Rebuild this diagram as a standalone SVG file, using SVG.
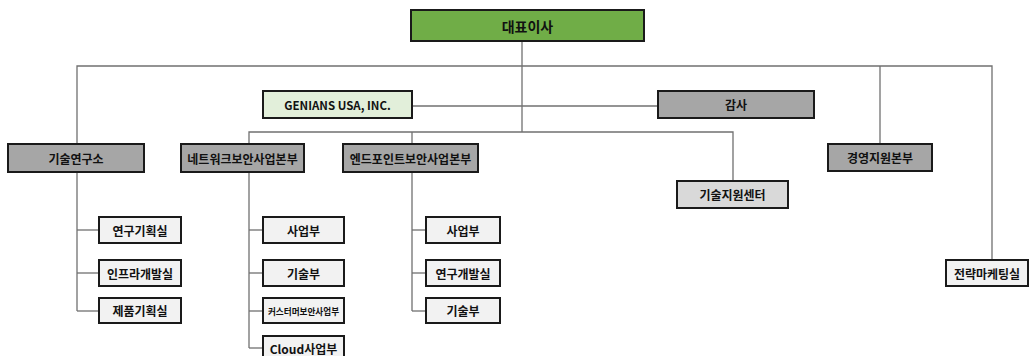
<svg xmlns="http://www.w3.org/2000/svg" width="1029" height="356" viewBox="0 0 1029 356">
<style>
.box{stroke:#1a1a1a;stroke-width:2}
.dk{fill:#a6a6a6}
.lt{fill:#f2f2f2}
.md{fill:#d9d9d9}
.gr{fill:#70ad47}
.lg{fill:#e2efda}
text{font-family:"Noto Sans CJK KR","Noto Sans",sans-serif;font-weight:bold;font-size:12px;fill:#111;text-anchor:middle;dominant-baseline:central}
.conn line,.conn polyline{stroke:#707070;stroke-width:1.3;fill:none}
</style>
<rect width="1029" height="356" fill="#ffffff"/>
<g class="conn" id="connectors">
<line x1="522" y1="41" x2="522" y2="132"/>
<polyline points="77,144 77,66 992,66 992,260"/>
<line x1="880" y1="66" x2="880" y2="144"/>
<line x1="412" y1="106" x2="658" y2="106"/>
<polyline points="249,144 249,132 733,132 733,181"/>
<line x1="412" y1="132" x2="412" y2="144"/>
<line x1="77" y1="172" x2="77" y2="311"/>
<line x1="77" y1="230" x2="99" y2="230"/>
<line x1="77" y1="273" x2="99" y2="273"/>
<line x1="77" y1="311" x2="99" y2="311"/>
<line x1="249" y1="172" x2="249" y2="348"/>
<line x1="249" y1="230" x2="263" y2="230"/>
<line x1="249" y1="273" x2="263" y2="273"/>
<line x1="249" y1="311" x2="263" y2="311"/>
<line x1="249" y1="348" x2="263" y2="348"/>
<line x1="412" y1="172" x2="412" y2="311"/>
<line x1="412" y1="230" x2="426" y2="230"/>
<line x1="412" y1="273" x2="426" y2="273"/>
<line x1="412" y1="311" x2="426" y2="311"/>
</g>
<g id="ceo"><rect class="box gr" x="411" y="10" width="233" height="31"/><text x="527.5" y="25.5" style="font-size:14px">대표이사</text></g>
<g id="genians-usa"><rect class="box lg" x="263" y="91" width="149" height="27"/><text x="337.5" y="104.5" style="font-size:11.5px">GENIANS USA, INC.</text></g>
<g id="audit"><rect class="box dk" x="658" y="91" width="156" height="27"/><text x="736" y="104.5">감사</text></g>
<g id="research-lab"><rect class="box dk" x="8" y="144" width="136" height="28"/><text x="76" y="158">기술연구소</text></g>
<g id="network-div"><rect class="box dk" x="181" y="144" width="123" height="28"/><text x="242.5" y="158">네트워크보안사업본부</text></g>
<g id="endpoint-div"><rect class="box dk" x="343" y="144" width="135" height="28"/><text x="410.5" y="158">엔드포인트보안사업본부</text></g>
<g id="mgmt-div"><rect class="box dk" x="828" y="144" width="104" height="27"/><text x="880" y="157.5">경영지원본부</text></g>
<g id="tech-support"><rect class="box md" x="677" y="181" width="111" height="27"/><text x="732.5" y="194.5">기술지원센터</text></g>
<g id="strategy-mkt"><rect class="box lt" x="946" y="260" width="82" height="26"/><text x="987" y="273">전략마케팅실</text></g>
<g id="rl-plan"><rect class="box lt" x="99" y="217" width="82" height="26"/><text x="140" y="230">연구기획실</text></g>
<g id="rl-infra"><rect class="box lt" x="99" y="260" width="82" height="26"/><text x="140" y="273">인프라개발실</text></g>
<g id="rl-product"><rect class="box lt" x="99" y="298" width="82" height="25"/><text x="140" y="310.5">제품기획실</text></g>
<g id="nw-biz"><rect class="box lt" x="263" y="217" width="81" height="26"/><text x="303.5" y="230">사업부</text></g>
<g id="nw-tech"><rect class="box lt" x="263" y="260" width="81" height="26"/><text x="303.5" y="273">기술부</text></g>
<g id="nw-customer"><rect class="box lt" x="263" y="298" width="81" height="25"/><text x="303.5" y="310.5" style="font-size:8.6px">커스터머보안사업부</text></g>
<g id="nw-cloud"><rect class="box lt" x="263" y="336" width="81" height="26"/><text x="303.5" y="348">Cloud사업부</text></g>
<g id="ep-biz"><rect class="box lt" x="426" y="217" width="74" height="26"/><text x="463" y="230">사업부</text></g>
<g id="ep-rnd"><rect class="box lt" x="426" y="260" width="74" height="26"/><text x="463" y="273">연구개발실</text></g>
<g id="ep-tech"><rect class="box lt" x="426" y="298" width="74" height="25"/><text x="463" y="310.5">기술부</text></g>
</svg>
